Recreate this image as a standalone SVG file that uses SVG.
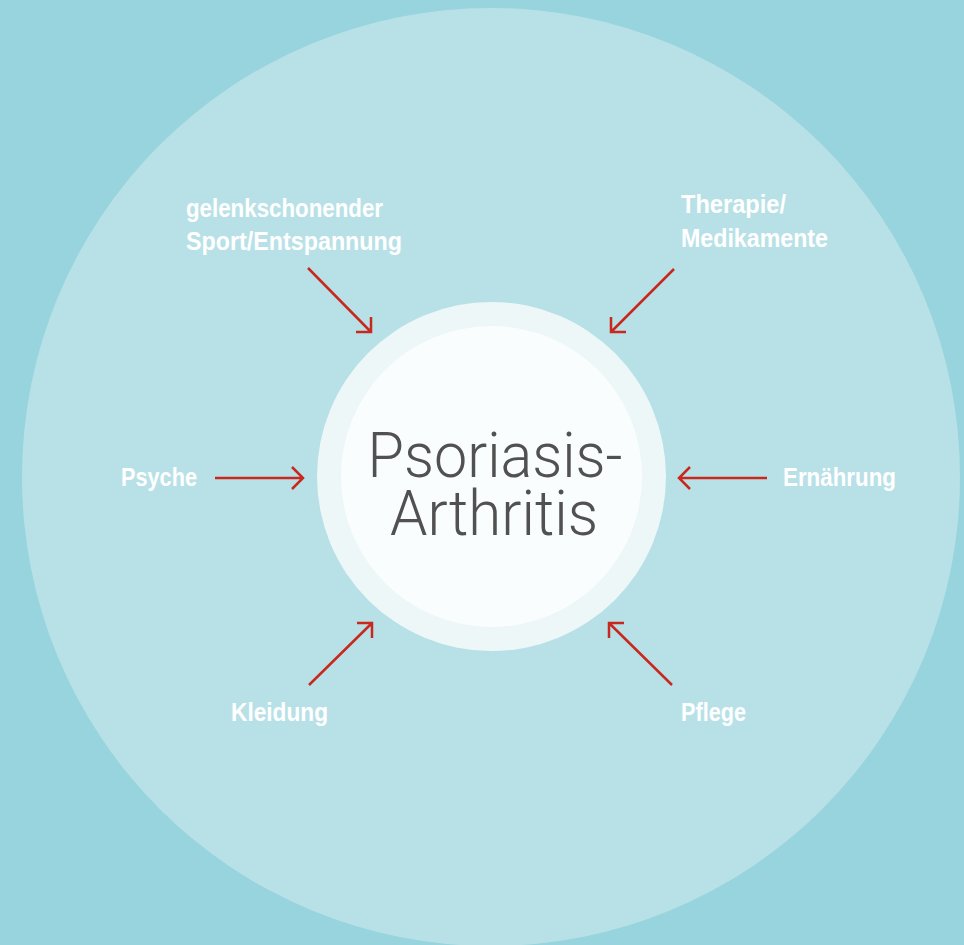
<svg xmlns="http://www.w3.org/2000/svg" width="964" height="945" viewBox="0 0 964 945">
<style>
.lbl{font-family:"Liberation Sans Narrow","Liberation Sans",Arial,sans-serif;font-weight:bold;font-size:26px;fill:#ffffff}
.main{font-family:Roboto,"Open Sans","Liberation Sans",sans-serif;font-weight:300;font-size:63px;fill:#505150}
.arr{stroke:#c8281e;stroke-width:2.5;fill:none;stroke-linecap:butt}
</style>
<rect width="964" height="945" fill="#98d4de"/>
<circle id="outer" cx="491" cy="477" r="469" fill="#b8e1e7"/>
<g id="center">
<circle cx="491.5" cy="476.5" r="174.5" fill="#edf7f8"/>
<circle cx="491.5" cy="476.5" r="150.5" fill="#fafdfe"/>
<text class="main" x="495" y="477" text-anchor="middle" textLength="255" lengthAdjust="spacingAndGlyphs">Psoriasis-</text>
<text class="main" x="494" y="535" text-anchor="middle" textLength="208" lengthAdjust="spacingAndGlyphs">Arthritis</text>
</g>
<g id="n-sport"><text class="lbl" x="186" y="217" textLength="197" lengthAdjust="spacingAndGlyphs">gelenkschonender</text><text class="lbl" x="186" y="250" textLength="216" lengthAdjust="spacingAndGlyphs">Sport/Entspannung</text></g>
<g id="n-therapie"><text class="lbl" x="681" y="213" textLength="105" lengthAdjust="spacingAndGlyphs">Therapie/</text><text class="lbl" x="681" y="247" textLength="147" lengthAdjust="spacingAndGlyphs">Medikamente</text></g>
<g id="n-psyche"><text class="lbl" x="121" y="486" textLength="76" lengthAdjust="spacingAndGlyphs">Psyche</text></g>
<g id="n-ernaehrung"><text class="lbl" x="783" y="486" textLength="113" lengthAdjust="spacingAndGlyphs">Ernährung</text></g>
<g id="n-kleidung"><text class="lbl" x="231" y="721" textLength="97" lengthAdjust="spacingAndGlyphs">Kleidung</text></g>
<g id="n-pflege"><text class="lbl" x="681" y="721" textLength="65" lengthAdjust="spacingAndGlyphs">Pflege</text></g>
<g id="connectors">
<path class="arr" d="M308 268 L371 332 M356 332 H371 V317"/>
<path class="arr" d="M674 269 L611 332 M626 332 H611 V317"/>
<path class="arr" d="M215 478 H303 M292 467 L303 478 L292 489"/>
<path class="arr" d="M767 478 H679 M690 467 L679 478 L690 489"/>
<path class="arr" d="M309 685 L372 623 M357 623 H372 V638"/>
<path class="arr" d="M672 685 L609 623 M624 623 H609 V638"/>
</g>
</svg>
